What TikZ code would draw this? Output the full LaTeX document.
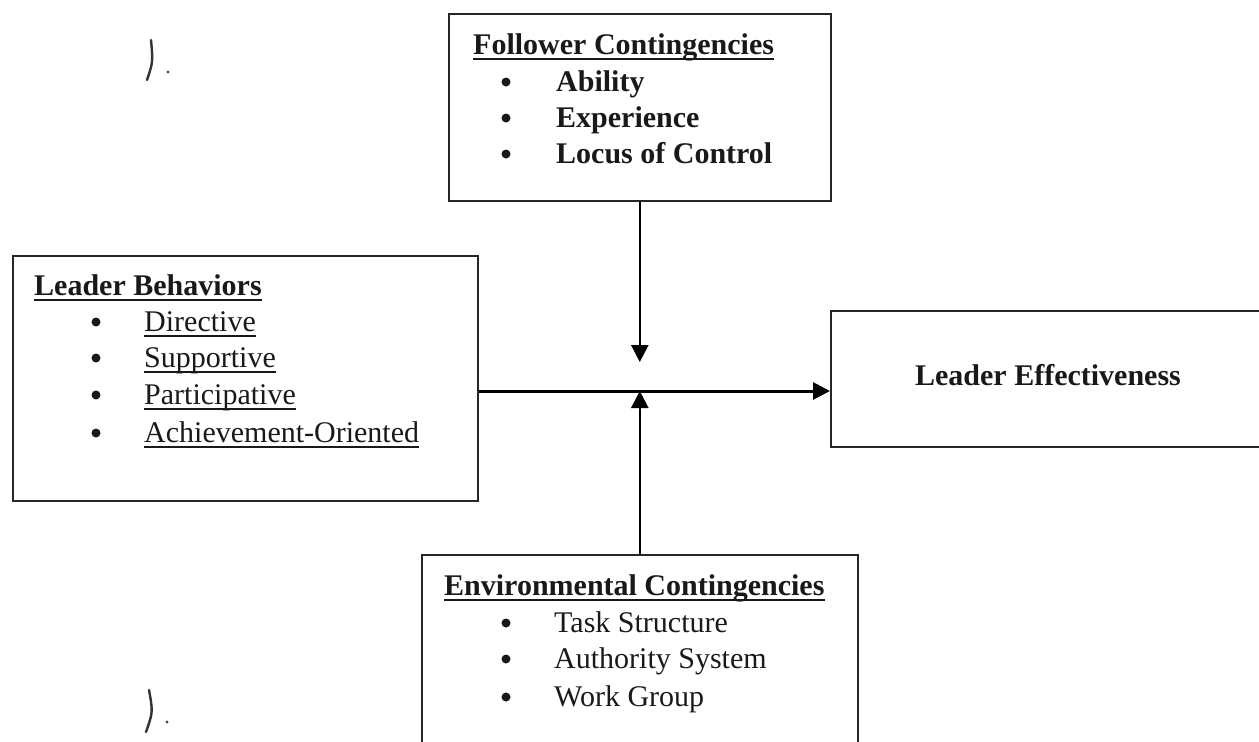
\documentclass[tikz,border=0pt]{standalone}
\usepackage{fontspec}
\setmainfont{Liberation Serif}
\usetikzlibrary{arrows.meta}
% underline placed a few points below the baseline, through descenders
\newcommand\ulx[1]{\setbox0\hbox{#1}\rlap{\rule[-5.5pt]{\wd0}{1.7pt}}\box0}
\tikzset{
  panel/.style={draw=black!85, line width=1.6pt, fill=none, inner sep=0pt, anchor=north west},
  txt/.style={anchor=base west, inner sep=0pt, text=black!90, font=\fontsize{30pt}{36pt}\selectfont},
  blt/.style={circle, fill=black!90, inner sep=0pt, minimum size=9pt},
  link/.style={line width=2.6pt, -{Triangle[length=17pt,width=17pt]}},
  penmark/.style={line width=2.4pt, black!80, line cap=round}
}
\begin{document}
\begin{tikzpicture}[x=1pt,y=-1pt]
\useasboundingbox (0,0) rectangle (1259,742);
\clip (0,0) rectangle (1259,742);

% boxes
\node[panel, minimum width=382pt, minimum height=187pt] (fol) at (448,13) {};
\node[panel, minimum width=465pt, minimum height=245pt] (lb) at (12,255) {};
\node[panel, minimum width=440pt, minimum height=136pt] (le) at (830,310) {};
\node[panel, minimum width=436pt, minimum height=200pt] (env) at (421,554) {};

% Follower contingencies
\node[txt] (folh) at (473,54) {\ulx{\textbf{Follower Contingencies}}};
\node[blt] (folb1) at (506,82) {};
\node[blt] (folb2) at (506,118) {};
\node[blt] (folb3) at (506,154) {};
\node[txt] (folt1) at (556,91) {\textbf{Ability}};
\node[txt] (folt2) at (556,127) {\textbf{Experience}};
\node[txt] (folt3) at (556,163) {\textbf{Locus of Control}};

% Leader behaviors
\node[txt] (lbh) at (34,295) {\ulx{\textbf{Leader Behaviors}}};
\node[blt] (lbb1) at (96,322) {};
\node[blt] (lbb2) at (96,358) {};
\node[blt] (lbb3) at (96,395) {};
\node[blt] (lbb4) at (96,433) {};
\node[txt] (lbt1) at (144,331) {\ulx{Directive}};
\node[txt] (lbt2) at (144,367) {\ulx{Supportive}};
\node[txt] (lbt3) at (144,404) {\ulx{Participative}};
\node[txt] (lbt4) at (144,442) {\ulx{Achievement-Oriented}};

% Leader effectiveness
\node[txt, anchor=base] (let) at (1048,385) {\textbf{Leader Effectiveness}};

% Environmental contingencies
\node[txt] (envh) at (444,595) {\ulx{\textbf{Environmental Contingencies}}};
\node[blt] (envb1) at (506,623) {};
\node[blt] (envb2) at (506,659) {};
\node[blt] (envb3) at (506,697) {};
\node[txt] (envt1) at (554,632) {Task Structure};
\node[txt] (envt2) at (554,668) {Authority System};
\node[txt] (envt3) at (554,706) {Work Group};

% connectors
\coordinate (mid) at (639,391);
\coordinate (downtip) at (639,362);
\draw[link, line width=3pt] (lb.east |- mid) -- (le.west |- mid);
\draw[link] (fol.south) -- (fol.south |- downtip);
\draw[link] (env.north) -- (env.north |- mid);

% pen marks in the left margin
\draw[penmark] (151,40) .. controls (153,62) .. (147,80);
\fill[black!70] (168,72) circle (1.6);
\draw[penmark] (149,690) .. controls (153,712) .. (146,732);
\fill[black!70] (167,722) circle (1.6);
\end{tikzpicture}
\end{document}
